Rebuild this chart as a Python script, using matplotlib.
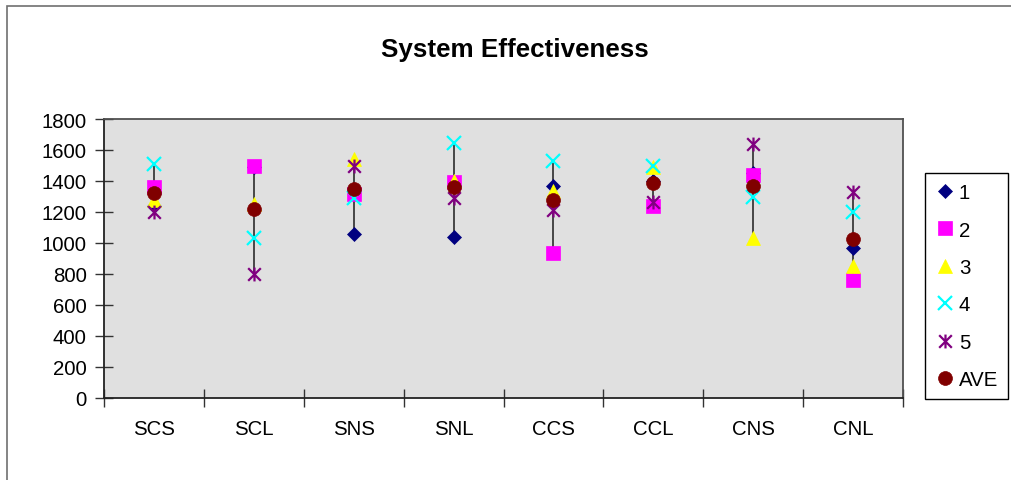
import numpy as np
import matplotlib
matplotlib.use("Agg")
import matplotlib.pyplot as plt
from matplotlib.path import Path
from matplotlib.patches import Rectangle

plt.rcParams['font.family'] = ['Liberation Sans', 'DejaVu Sans']

categories = ['SCS', 'SCL', 'SNS', 'SNL', 'CCS', 'CCL', 'CNS', 'CNL']
run1 = [1240, 1490, 1058, 1037, 1366, 1400, 1450, 966]
run2 = [1359, 1500, 1316, 1396, 934, 1241, 1439, 763]
run3 = [1280, 1250, 1540, 1400, 1338, 1490, 1030, 854]
run4 = [1510, 1032, 1288, 1643, 1527, 1499, 1295, 1202]
run5 = [1202, 800, 1499, 1288, 1215, 1267, 1639, 1331]
average = [1323, 1219, 1348, 1359, 1280, 1387, 1370, 1026]
series_labels = ['1', '2', '3', '4', '5', 'AVE']
y_ticks = [0, 200, 400, 600, 800, 1000, 1200, 1400, 1600, 1800]

W, H = 1011, 481
fig = plt.figure(figsize=(W / 100, H / 100), dpi=100)
fig.patch.set_facecolor('white')

# outer chart frame (runs past the right and bottom edges)
fig.patches.append(Rectangle((7 / W, -0.05), 0.05 + 1 - 7 / W, 1 - 7 / H + 0.05,
                             transform=fig.transFigure, fill=False,
                             edgecolor='#707070', linewidth=1.2))

left, right, top, bottom = 104, 903, 120, 399
ax = fig.add_axes([left / W, 1 - bottom / H, (right - left) / W, (bottom - top) / H])
ax.set_facecolor('#E0E0E0')

x = np.arange(1, len(categories) + 1)
all_series = np.array([run1, run2, run3, run4, run5, average])

# high-low lines joining the extremes of each category
ax.vlines(x, all_series.min(axis=0), all_series.max(axis=0),
          colors='#3a3a3a', linewidth=1.3, zorder=2)

star = Path([(-0.5, -0.5), (0.5, 0.5), (-0.5, 0.5), (0.5, -0.5), (0, -0.55), (0, 0.55)],
            [Path.MOVETO, Path.LINETO, Path.MOVETO, Path.LINETO, Path.MOVETO, Path.LINETO])

styles = [
    dict(marker='D', color='#000080', markersize=6.8),
    dict(marker='s', color='#FF00FF', markersize=10),
    dict(marker='^', color='#FFFF00', markersize=10.5),
    dict(marker='x', color='#00FFFF', markersize=9.5, markeredgewidth=1.6),
    dict(marker=star, color='#800080', markersize=10, markeredgewidth=1.6),
    dict(marker='o', color='#800000', markersize=10),
]

handles = []
for vals, lab, st in zip(all_series, series_labels, styles):
    st = dict(st)
    c = st.pop('color')
    kw = dict(linestyle='none', markerfacecolor=c, markeredgecolor=c)
    if st['marker'] in ('x',) or isinstance(st['marker'], Path):
        kw['markerfacecolor'] = 'none'
    else:
        kw['markeredgewidth'] = 0.5
    kw.update(st)
    h, = ax.plot(x, vals, label=lab, zorder=3, **kw)
    handles.append(h)

ax.set_xlim(0.5, len(categories) + 0.5)
ax.set_ylim(0, 1800)
ax.set_yticks(y_ticks)
ax.set_yticklabels([str(v) for v in y_ticks])
ax.set_xticks(np.arange(0.5, len(categories) + 1, 1))
ax.set_xticklabels([])
ax.set_xticks(x, minor=True)
ax.set_xticklabels(categories, minor=True)

fs = 14.7
ax.tick_params(axis='y', which='major', direction='inout', length=13, width=1.0,
               color='#333333', labelsize=fs, pad=6)
ax.tick_params(axis='x', which='major', direction='inout', length=13, width=1.0,
               color='#333333')
ax.tick_params(axis='x', which='minor', length=0, labelsize=fs, pad=15)

for side in ('left', 'bottom'):
    ax.spines[side].set_color('#222222')
    ax.spines[side].set_linewidth(1.3)
for side in ('top', 'right'):
    ax.spines[side].set_color('#505050')
    ax.spines[side].set_linewidth(1.3)

fig.text(515 / W, 1 - 56.5 / H, 'System Effectiveness', ha='center', va='baseline',
         fontsize=18.7, fontweight='bold')

leg = ax.legend(handles=handles, loc='upper left',
                bbox_to_anchor=(925 / W, 1 - 174 / H), bbox_transform=fig.transFigure,
                borderaxespad=0, fontsize=fs, frameon=True, fancybox=False,
                edgecolor='black', facecolor='white', framealpha=1,
                handlelength=1.0, handletextpad=0.15, borderpad=0.5,
                labelspacing=0.9, numpoints=1)
leg.get_frame().set_linewidth(1.0)

fig.savefig('out.png', dpi=100)
